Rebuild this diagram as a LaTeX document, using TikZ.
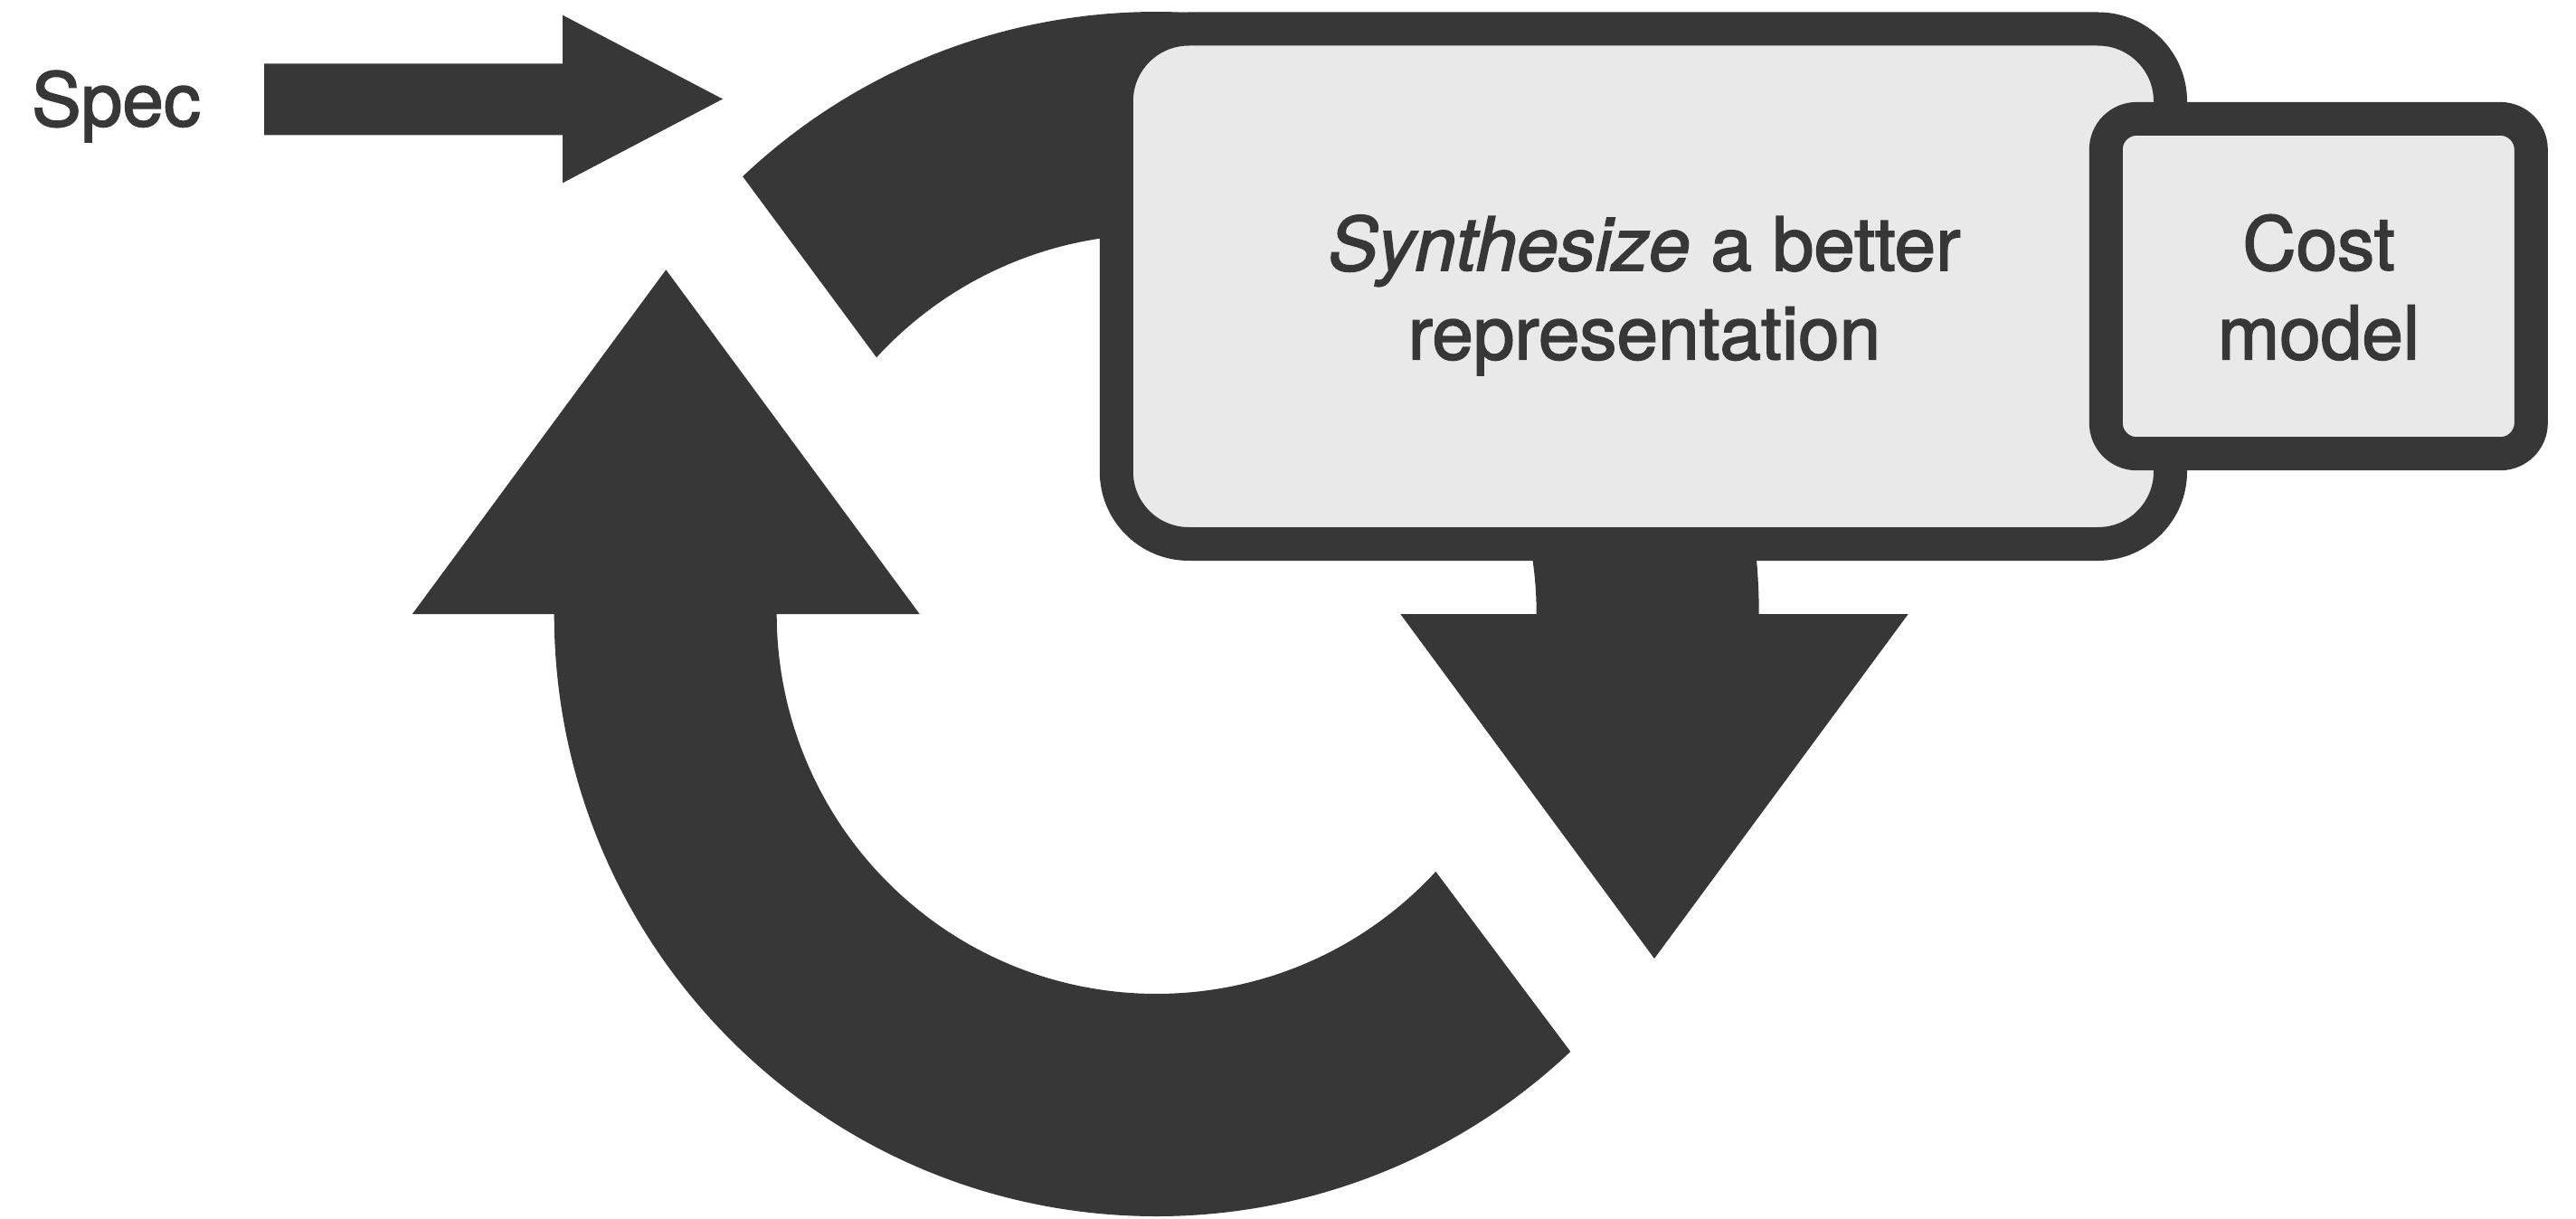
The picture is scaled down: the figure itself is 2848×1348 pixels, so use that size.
\documentclass[tikz,border=0pt]{standalone}
\usepackage{fontspec}
\usetikzlibrary{calc}
\newfontfamily\heros[UprightFeatures={FakeBold=2},ItalicFeatures={FakeBold=2}]{TeX Gyre Heros}
\definecolor{ink}{HTML}{373737}
\definecolor{boxfill}{HTML}{E9E9E9}
\begin{document}
\begin{tikzpicture}[x=1pt,y=-1pt,
  solid shape/.style={fill=ink},
  panel/.style={draw=ink, fill=boxfill, line width=37pt, inner sep=0pt},
  lbl/.style={text=ink, font=\heros\fontsize{82}{98}\selectfont, inner sep=0pt, anchor=base}]
\useasboundingbox[fill=white] (0,0) rectangle (2848,1348);
\coordinate (C) at (1278.7,679);
% upper arc of the cycle
\fill[solid shape] ($(C)+(-133.4:666)$) arc[start angle=-133.4,end angle=1,radius=666]
  -- ($(C)+(1:420)$) arc[start angle=1,end angle=-137.5,radius=420] -- cycle;
% lower arc of the cycle
\fill[solid shape] ($(C)+(181:666)$) arc[start angle=181,end angle=46.6,radius=666]
  -- ($(C)+(42.7:420)$) arc[start angle=42.7,end angle=181,radius=420] -- cycle;
% arrow heads
\coordinate (LA1) at (455.9,679); \coordinate (LAt) at (736.3,298.3); \coordinate (LA2) at (1016.7,679);
\fill[solid shape] (LA1) -- (LAt) -- (LA2) -- cycle;
\coordinate (RA1) at (1548.3,679); \coordinate (RAt) at (1829,1060); \coordinate (RA2) at (2109.7,679);
\fill[solid shape] (RA1) -- (RAt) -- (RA2) -- cycle;
% spec arrow
\coordinate (S0) at (292,70.3); \coordinate (Sh) at (799,109.5);
\fill[solid shape] (S0) -- (622,70.3) -- (622,16.7) -- (Sh) -- (622,202.3) -- (622,149.3) -- (292,149.3) -- cycle;
% boxes
\node[panel, rounded corners=80pt, minimum width=1165.2pt, minimum height=569.5pt] (synth) at (1816.9,316.75) {};
\node[panel, rounded corners=34pt, minimum width=470pt, minimum height=370.3pt] (cost) at (2563.3,316.55) {};
% labels
\node[lbl] (spec) at (128.5,139.3) {Spec};
\node[lbl] (synthA) at (1818,299) {\textit{Synthesize} a better};
\node[lbl] (synthB) at (1818,397.3) {representation};
\node[lbl] (costA) at (2563.5,298.5) {Cost};
\node[lbl] (costB) at (2563.5,397.2) {model};
\end{tikzpicture}
\end{document}
